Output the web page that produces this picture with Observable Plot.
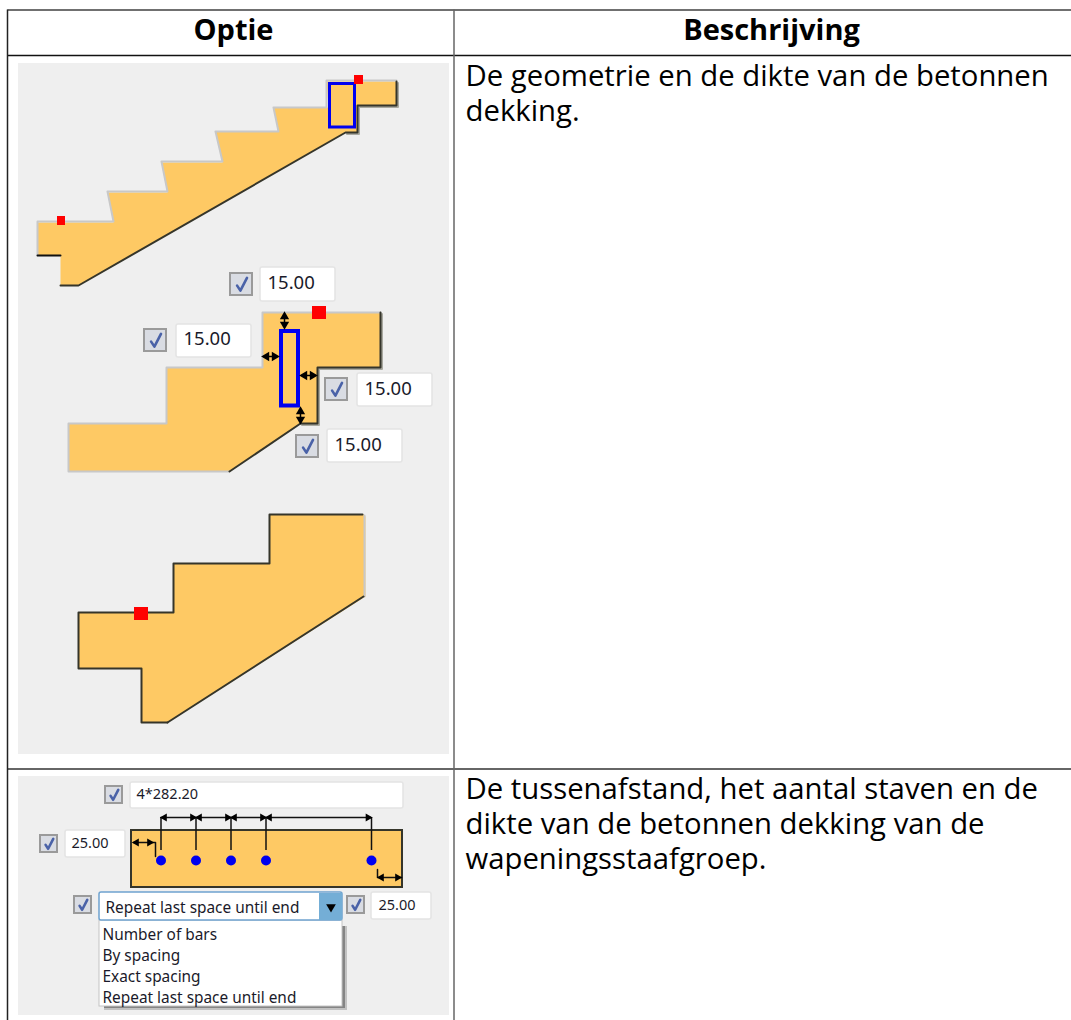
<!doctype html>
<html><head><meta charset="utf-8">
<script src="https://cdn.jsdelivr.net/npm/d3@7"></script>
<script src="https://cdn.jsdelivr.net/npm/@observablehq/plot@0.6"></script>
<style>html,body{margin:0;padding:0;background:#fff}svg{display:block}</style>
</head><body><div id="chart"></div>
<script>
const FONT = "'Open Sans'";
const UI_FONT = "'Noto Sans'";
const tableLines = [
  {x1:7,y1:9.5,x2:1071,y2:9.5,c:"#707070",w:2},
  {x1:7,y1:55,x2:1071,y2:55,c:"#111",w:1.5},
  {x1:7,y1:768.5,x2:1071,y2:768.5,c:"#333",w:1.5},
  {x1:7,y1:9,x2:7,y2:1020,c:"#222",w:1.5},
  {x1:453.5,y1:9,x2:453.5,y2:1020,c:"#666",w:1.5}
];
const panels = [{x1:18,y1:63,x2:449,y2:754},{x1:18,y1:776,x2:449,y2:1015}];
const headers = [{x:233,y:30,t:"Optie"},{x:771,y:30,t:"Beschrijving"}];
const bodyText = [
  {y:91.5,t:"De geometrie en de dikte van de betonnen\ndekking."},
  {y:822,t:"De tussenafstand, het aantal staven en de\ndikte van de betonnen dekking van de\nwapeningsstaafgroep."}
];
// stair outlines (image pixels)
const stairA = [[37,222],[113,222],[107,192],[167,192],[161,162],[222,162],[215,131],[278,131],[273,107],[328,107],[326,81],[396,81],[396,105],[357,105],[357,132],[345,132],[78,285],[60,285],[60,255],[37,255]];
const stairAGray = [[37,255],[37,221],[113,221],[107,191],[167,191],[161,161],[222,161],[215,131],[278,131],[273,107],[326,107],[326,80],[396,80]];
const stairADark = [[396,81],[396,105],[357,105],[357,132],[345,132],[78,285],[60,285]];
const stairAHalo = [[396,81],[396,105],[357,105],[357,132],[345,132]];
const stairASmall = [[37,255],[60,255]];
const stairB = [[68,423],[166,423],[166,367],[262,367],[262,312],[380,312],[380,367],[317,367],[317,423],[300,423],[229,471],[68,471]];
const stairBGray = [[229,471],[68,471],[68,423],[166,423],[166,367],[262,367],[262,312],[380,312]];
const stairBDark = [[380,312],[380,367],[317,367],[317,423],[300,423],[229,471]];
const stairBHalo = [[380,312],[380,367],[317,367],[317,423],[300,423]];
const stairC = [[78,612],[173,612],[173,563],[269,563],[269,514],[363,514],[365,516],[365,596],[167,722],[141,722],[141,668],[78,668]];
const stairCDark = [[167,722],[141,722],[141,668],[78,668],[78,612],[173,612],[173,563],[269,563],[269,514],[362,514]];
const stairCDiag = [[363,596],[167,722]];
const stairCGray = [[364,515],[364,596]];
const reds = [{x1:354,y1:75,x2:363,y2:84},{x1:57,y1:216,x2:65,y2:225},{x1:312,y1:306,x2:326,y2:319},{x1:134,y1:607,x2:148,y2:620}];
const blueRects = [{x1:329.5,y1:83.5,x2:354.5,y2:127,w:3},{x1:281,y1:331,x2:298,y2:405.5,w:4}];
const checks = [{x:230,y:273,s:22},{x:144,y:329,s:22},{x:325,y:378,s:22},{x:296,y:435,s:22},{x:105,y:786,s:17},{x:40,y:835,s:17},{x:74,y:896,s:17},{x:347,y:896,s:17}];
const inputs = [{x1:260,y1:267,x2:335,y2:301},{x1:176,y1:324,x2:251,y2:357},{x1:357,y1:373,x2:432,y2:406},{x1:327,y1:429,x2:402,y2:462},{x1:130,y1:782,x2:403,y2:808},{x1:65,y1:830,x2:125,y2:857},{x1:371,y1:892,x2:431,y2:919}];
const inputTexts = [
  {x:267,y:283,t:"15.00",s:18.5},{x:183,y:339,t:"15.00",s:18.5},{x:364,y:389,t:"15.00",s:18.5},{x:334,y:445,t:"15.00",s:18.5},
  {x:136,y:794,t:"4*282.20",s:14.5},{x:71,y:843,t:"25.00",s:14.5},{x:378,y:905,t:"25.00",s:14.5}
];
const doubleV = [{x:284,y:320},{x:300,y:415}];
const doubleH = [{x:270,y:356},{x:308,y:375}];
const beam = {x1:131,y1:830,x2:402,y2:887};
const barX = [160.5,195.5,230.5,265.5,371];
const barY = 860;
const dimY = 817;
const dropdown = {x1:99,y1:892,x2:342,y2:920};
const button = {x1:319,y1:893,x2:342,y2:920};
const listBox = {x1:99,y1:920,x2:342,y2:1006};
const listShadowOuter = [{x1:342,y1:926,x2:347,y2:1010},{x1:104,y1:1006,x2:347,y2:1010}];
const listShadowInner = [{x1:342,y1:926,x2:345,y2:1008},{x1:104,y1:1006,x2:345,y2:1008}];
const listItems = [{y:934.5,t:"Number of bars"},{y:955.5,t:"By spacing"},{y:976.5,t:"Exact spacing"},{y:997.5,t:"Repeat last space until end"}];
const dropLabel = {x:105,y:907.5,t:"Repeat last space until end"};

const pts = a => a.map(([x,y]) => ({x,y}));
const poly = (a, o) => Plot.line(pts(a), {x:"x", y:"y", curve:"linear", ...o});
const fillPoly = a => poly([...a, a[0]], {fill:"#fec964", stroke:"none"});
const rect = (d, o) => Plot.rect(d, {x1:"x1", x2:"x2", y1:"y1", y2:"y2", ...o});
const shift = a => a.map(([x,y]) => [x+1.5,y+1.5]);
const grey = "#c8c8c8", dark = "#35352a", halo = "#a9a9a0";

// dimension arrowheads
const heads = [];
const tri = (x,y,rotate,r) => heads.push({x,y,rotate,r});
for (const d of doubleV) { tri(d.x,d.y-4,0,5); tri(d.x,d.y+4,180,5); }
for (const d of doubleH) { tri(d.x-4,d.y,270,5); tri(d.x+4,d.y,90,5); }
barX.forEach((x,i) => { if(i>0) tri(x-3.5,dimY,90,3.8); if(i<barX.length-1) tri(x+3.5,dimY,270,3.8); });
tri(136,842,270,3.8); tri(149,842,90,3.8); tri(381,877,270,3.8); tri(397,877,90,3.8);

const checkBoxes = checks.map(c => ({x1:c.x,y1:c.y,x2:c.x+c.s,y2:c.y+c.s}));
const checkMarks = checks.flatMap((c,i) => [
  {i,x:c.x+c.s*0.3,y:c.y+c.s*0.55},{i,x:c.x+c.s*0.45,y:c.y+c.s*0.78},{i,x:c.x+c.s*0.75,y:c.y+c.s*0.2}
]);

const marks = [
  rect(panels,{fill:"#efefef"}),
  Plot.link(tableLines,{x1:"x1",y1:"y1",x2:"x2",y2:"y2",stroke:"c",strokeWidth:"w"}),
  Plot.text(headers,{x:"x",y:"y",text:"t",fontSize:29,fontWeight:700,fontFamily:FONT,fill:"#000"}),
  Plot.text(bodyText,{x:()=>465,y:"y",text:"t",textAnchor:"start",fontSize:29.3,lineHeight:35/29.3,fontFamily:FONT,fill:"#000"}),

  poly(shift(stairAHalo),{stroke:halo,strokeWidth:2}),
  fillPoly(stairA),
  poly(stairAGray,{stroke:grey,strokeWidth:2}),
  poly(stairADark,{stroke:dark,strokeWidth:2}),
  poly(stairASmall,{stroke:"#111",strokeWidth:2}),
  poly(shift(stairBHalo),{stroke:halo,strokeWidth:2}),
  fillPoly(stairB),
  poly(stairBGray,{stroke:grey,strokeWidth:2}),
  poly(stairBDark,{stroke:dark,strokeWidth:2}),
  fillPoly(stairC),
  poly(stairCGray,{stroke:grey,strokeWidth:2}),
  poly(stairCDark,{stroke:dark,strokeWidth:2}),
  poly(stairCDiag,{stroke:dark,strokeWidth:2}),
  rect(blueRects,{stroke:"#0000f0",strokeWidth:"w",fill:"none"}),
  rect(reds,{fill:"#ff0000"}),

  rect([beam],{fill:"#fec964",stroke:dark,strokeWidth:2}),

  rect(inputs,{fill:"#fff",stroke:"#e4e4e4",strokeWidth:1.5,rx:2}),
  rect(checkBoxes,{fill:"#d9dce3",stroke:"#9a9a9a",strokeWidth:2}),
  Plot.line(checkMarks,{x:"x",y:"y",z:"i",stroke:"#4a62a8",strokeWidth:2.6,curve:"linear"}),
  Plot.text(inputTexts,{x:"x",y:"y",text:"t",textAnchor:"start",fontSize:"s",fontFamily:UI_FONT,fill:"#1a1a2a"}),

  // stair clearance arrows
  Plot.link(doubleV,{x1:"x",x2:"x",y1:d=>d.y-7,y2:d=>d.y+7,stroke:"#000",strokeWidth:1.5}),
  Plot.link(doubleH,{x1:d=>d.x-7,x2:d=>d.x+7,y1:"y",y2:"y",stroke:"#000",strokeWidth:1.5}),

  // bar spacing dimensions
  Plot.ruleX(barX,{y1:dimY,y2:barY-10,stroke:"#111",strokeWidth:1.5}),
  Plot.ruleY([dimY],{x1:barX[0],x2:barX[4],stroke:"#111",strokeWidth:1.5}),
  poly([[133,842],[155,842],[155,856]],{stroke:"#111",strokeWidth:1.5}),
  poly([[377,869],[377,877],[401,877]],{stroke:"#111",strokeWidth:1.5}),
  Plot.dot(heads,{x:"x",y:"y",rotate:"rotate",symbol:"triangle",r:"r",fill:"#000",stroke:"none"}),
  Plot.dot(barX,{x:d=>d,y:()=>barY,r:5,fill:"#0000f0",stroke:"none"}),

  // dropdown
  rect(listShadowOuter,{fill:"#c2c2c2"}),
  rect(listShadowInner,{fill:"#858585"}),
  rect([listBox],{fill:"#fff",stroke:"#c4c4c4",strokeWidth:1}),
  rect([dropdown],{fill:"#fff",stroke:"#6fa3cf",strokeWidth:1.5,rx:2}),
  rect([button],{fill:"#74aed6"}),
  Plot.dot([button],{x:d=>(d.x1+d.x2)/2,y:d=>(d.y1+d.y2)/2,symbol:"triangle",rotate:()=>180,r:3.6,fill:"#000",stroke:"none"}),
  Plot.text([dropLabel],{x:"x",y:"y",text:"t",textAnchor:"start",fontSize:15.4,fontFamily:UI_FONT,fill:"#1a1a2a"}),
  Plot.text(listItems,{x:()=>102,y:"y",text:"t",textAnchor:"start",fontSize:15.4,fontFamily:UI_FONT,fill:"#1a1a2a"})
];

const chart = Plot.plot({
  width:1071,height:1020,margin:0,
  style:{background:"#fff"},
  x:{domain:[0,1071],range:[0,1071],axis:null},
  y:{domain:[0,1020],range:[0,1020],axis:null},
  marks
});
document.getElementById("chart").append(chart);
</script></body></html>
